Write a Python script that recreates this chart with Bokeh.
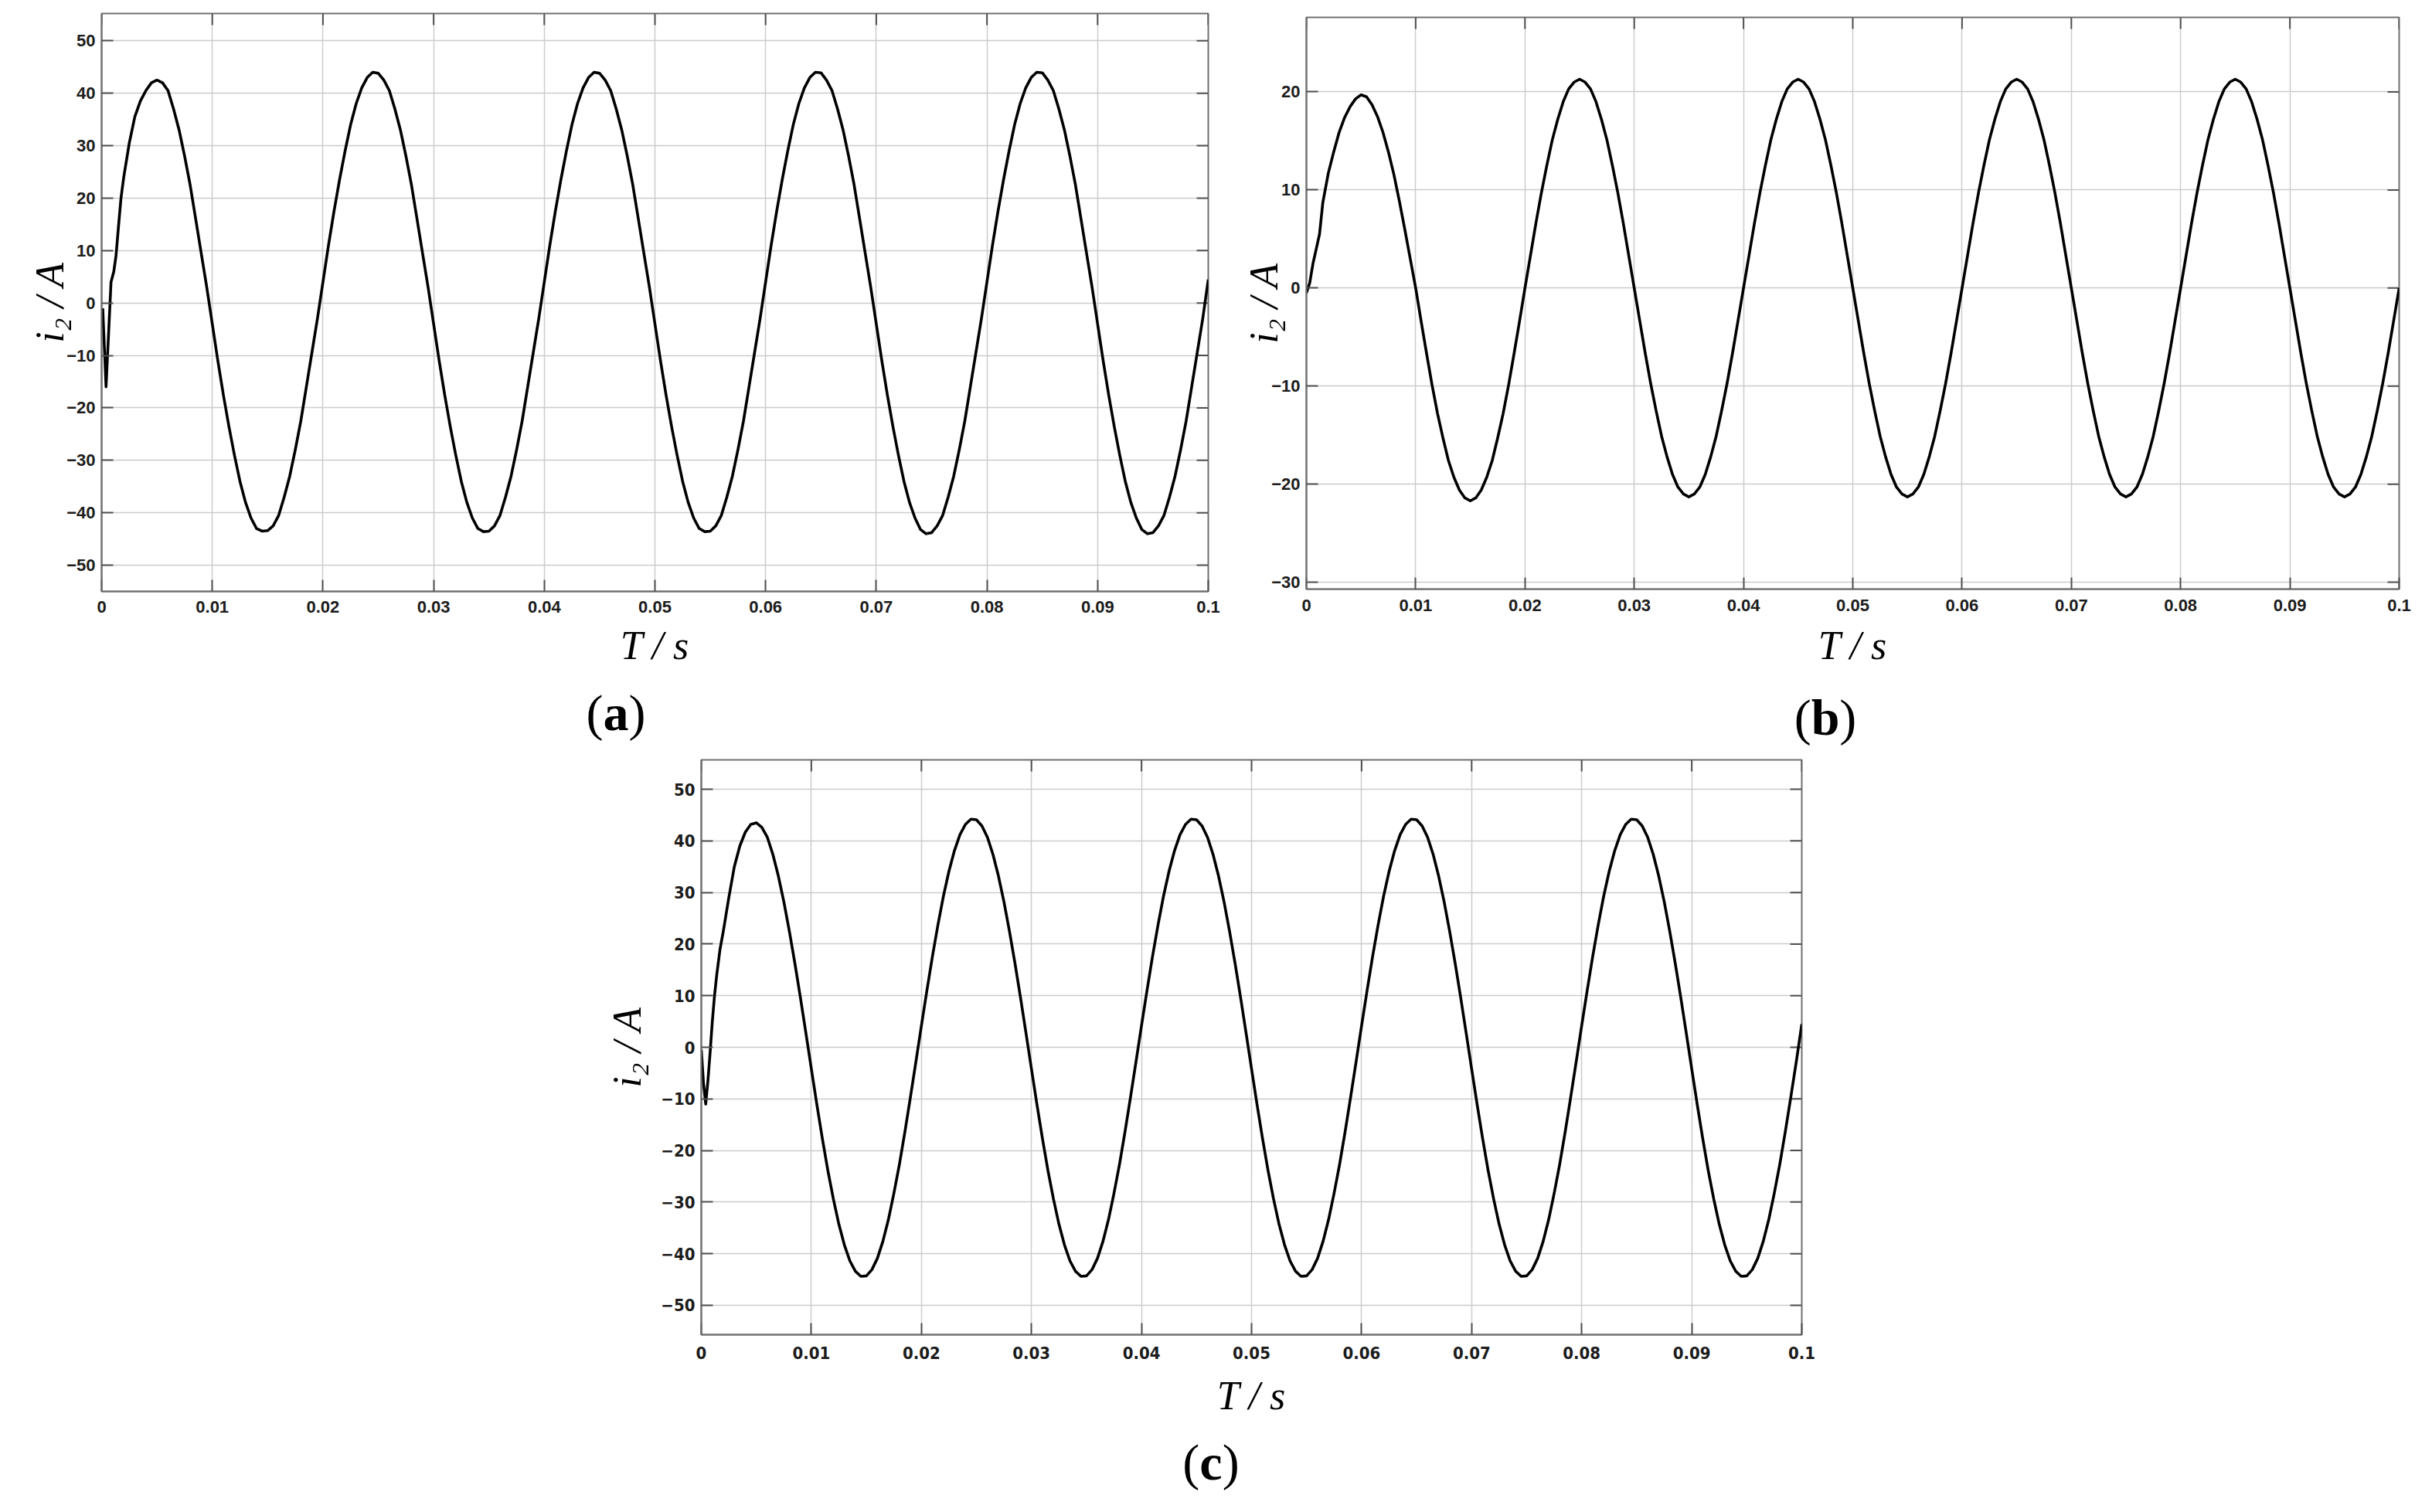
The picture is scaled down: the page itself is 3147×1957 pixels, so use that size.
import math
from bokeh.plotting import figure
from bokeh.models import FixedTicker, Range1d, Spacer, Div
from bokeh.layouts import row, column
from bokeh.embed import file_html
from bokeh.resources import INLINE

# ---------------- data ----------------
x_ticks = [0, 0.01, 0.02, 0.03, 0.04, 0.05, 0.06, 0.07, 0.08, 0.09, 0.1]
x_tick_labels = ["0", "0.01", "0.02", "0.03", "0.04", "0.05", "0.06", "0.07", "0.08", "0.09", "0.1"]

ac_y_ticks = [-50, -40, -30, -20, -10, 0, 10, 20, 30, 40, 50]
ac_y_labels = ["\u221250", "\u221240", "\u221230", "\u221220", "\u221210", "0", "10", "20", "30", "40", "50"]
b_y_ticks = [-30, -20, -10, 0, 10, 20]
b_y_labels = ["\u221230", "\u221220", "\u221210", "0", "10", "20"]

# sampling step of the digitised steady part (s)
step = 0.0005

# (a)
a_time_head = [0.0001, 0.0004, 0.00085, 0.0011, 0.0013, 0.0015, 0.00175, 0.002, 0.0025,
               0.003, 0.0035, 0.004, 0.0045, 0.005, 0.0055]
a_curr_head = [-1, -16, 4, 6, 9, 14, 20, 24, 30.5, 35.5, 38.5, 40.5, 42, 42.5, 42]
a_tail_start = 12  # first sample index of the tail (t = 0.006 s)
a_curr_tail = [
    40.5, 37, 33, 28, 22.5, 16, 9.5, 3,
    -4, -11, -17.5, -23.5, -29, -34, -38, -41, -43, -43.5, -43.4, -42.5, -40.5, -37, -33, -28, -22.5, -16, -9.5, -3,
    4, 11, 17.5, 23.5, 29, 34, 38, 41, 43, 44, 43.8, 42.5, 40.5, 37, 33, 28, 22.5, 16, 9.5, 3,
    -4, -11, -17.5, -23.5, -29, -34, -38, -41, -43, -43.6, -43.5, -42.5, -40.5, -37, -33, -28, -22.5, -16, -9.5, -3,
    4, 11, 17.5, 23.5, 29, 34, 38, 41, 43, 44, 43.8, 42.5, 40.5, 37, 33, 28, 22.5, 16, 9.5, 3,
    -4, -11, -17.5, -23.5, -29, -34, -38, -41, -43, -43.6, -43.5, -42.5, -40.5, -37, -33, -28, -22.5, -16, -9.5, -3,
    4, 11, 17.5, 23.5, 29, 34, 38, 41, 43, 44, 43.9, 42.5, 40.5, 37, 33, 28, 22.5, 16, 9.5, 3,
    -4, -11, -17.5, -23.5, -29, -34, -38, -41, -43.2, -44, -43.8, -42.5, -40.5, -37, -33, -28, -22.5, -16, -9.5, -3,
    4, 11, 17.5, 23.5, 29, 34, 38, 41, 43, 44, 43.9, 42.5, 40.5, 37, 33, 28, 22.5, 16, 9.5, 3,
    -4, -11, -17.5, -23.5, -29, -34, -38, -41, -43.2, -44, -43.8, -42.5, -40.5, -37, -33, -28, -22.5, -16, -9.5, -3,
    4.5,
]

# (b)
b_time_head = [0, 0.0003, 0.0006, 0.0009, 0.0012, 0.0015, 0.002, 0.0025, 0.003, 0.0035, 0.004,
               0.0045, 0.005, 0.0055, 0.006, 0.0065, 0.007, 0.0075, 0.008, 0.0085, 0.009, 0.0095]
b_curr_head = [-0.5, 0.5, 2.5, 4, 5.5, 8.7, 11.7, 13.9, 15.9, 17.4, 18.5, 19.3, 19.7, 19.5, 18.7,
               17.5, 15.9, 13.9, 11.6, 8.9, 6.0, 3.0]
b_tail_start = 20  # t = 0.010 s
b_curr_tail = [
    0, -3.4, -6.7, -9.9, -12.8, -15.3, -17.6, -19.3, -20.6, -21.4, -21.7, -21.4, -20.6, -19.3, -17.6, -15.3, -12.8, -9.9, -6.7, -3.4,
    0, 3.3, 6.6, 9.7, 12.5, 15.1, 17.2, 19, 20.3, 21, 21.3, 21, 20.3, 19, 17.2, 15.1, 12.5, 9.7, 6.6, 3.3,
    0, -3.3, -6.6, -9.7, -12.5, -15.1, -17.2, -19, -20.3, -21, -21.3, -21, -20.3, -19, -17.2, -15.1, -12.5, -9.7, -6.6, -3.3,
    0, 3.3, 6.6, 9.7, 12.5, 15.1, 17.2, 19, 20.3, 21, 21.3, 21, 20.3, 19, 17.2, 15.1, 12.5, 9.7, 6.6, 3.3,
    0, -3.3, -6.6, -9.7, -12.5, -15.1, -17.2, -19, -20.3, -21, -21.3, -21, -20.3, -19, -17.2, -15.1, -12.5, -9.7, -6.6, -3.3,
    0, 3.3, 6.6, 9.7, 12.5, 15.1, 17.2, 19, 20.3, 21, 21.3, 21, 20.3, 19, 17.2, 15.1, 12.5, 9.7, 6.6, 3.3,
    0, -3.3, -6.6, -9.7, -12.5, -15.1, -17.2, -19, -20.3, -21, -21.3, -21, -20.3, -19, -17.2, -15.1, -12.5, -9.7, -6.6, -3.3,
    0, 3.3, 6.6, 9.7, 12.5, 15.1, 17.2, 19, 20.3, 21, 21.3, 21, 20.3, 19, 17.2, 15.1, 12.5, 9.7, 6.6, 3.3,
    0, -3.3, -6.6, -9.7, -12.5, -15.1, -17.2, -19, -20.3, -21, -21.3, -21, -20.3, -19, -17.2, -15.1, -12.5, -9.7, -6.6, -3.3,
    0,
]

# (c)
c_time_head = [0, 0.0002, 0.0004, 0.0006, 0.0008, 0.001, 0.0012, 0.0014, 0.0017, 0.002, 0.0025,
               0.003, 0.0035, 0.004, 0.0045, 0.005, 0.0055]
c_curr_head = [-0.5, -7, -11, -6.5, -1, 5, 10, 14, 19, 22.5, 29, 35, 39, 41.7, 43.2, 43.5, 42.6]
c_tail_start = 12  # t = 0.006 s
c_curr_tail = [
    40.7, 37.4, 33.2, 28.2, 22.5, 16.3, 9.7, 2.8,
    -4.2, -11.1, -17.7, -23.9, -29.4, -34.3, -38.3, -41.4, -43.4, -44.4, -44.3, -43.1, -40.9, -37.6, -33.4, -28.3, -22.7, -16.4, -9.7, -2.8,
    4.2, 11, 17.6, 23.7, 29.3, 34.1, 38.1, 41.2, 43.2, 44.2, 44.1, 42.9, 40.7, 37.4, 33.2, 28.2, 22.5, 16.3, 9.7, 2.8,
    -4.2, -11.1, -17.7, -23.9, -29.4, -34.3, -38.3, -41.4, -43.4, -44.4, -44.3, -43.1, -40.9, -37.6, -33.4, -28.3, -22.7, -16.4, -9.7, -2.8,
    4.2, 11, 17.6, 23.7, 29.3, 34.1, 38.1, 41.2, 43.2, 44.2, 44.1, 42.9, 40.7, 37.4, 33.2, 28.2, 22.5, 16.3, 9.7, 2.8,
    -4.2, -11.1, -17.7, -23.9, -29.4, -34.3, -38.3, -41.4, -43.4, -44.4, -44.3, -43.1, -40.9, -37.6, -33.4, -28.3, -22.7, -16.4, -9.7, -2.8,
    4.2, 11, 17.6, 23.7, 29.3, 34.1, 38.1, 41.2, 43.2, 44.2, 44.1, 42.9, 40.7, 37.4, 33.2, 28.2, 22.5, 16.3, 9.7, 2.8,
    -4.2, -11.1, -17.7, -23.9, -29.4, -34.3, -38.3, -41.4, -43.4, -44.4, -44.3, -43.1, -40.9, -37.6, -33.4, -28.3, -22.7, -16.4, -9.7, -2.8,
    4.2, 11, 17.6, 23.7, 29.3, 34.1, 38.1, 41.2, 43.2, 44.2, 44.1, 42.9, 40.7, 37.4, 33.2, 28.2, 22.5, 16.3, 9.7, 2.8,
    -4.2, -11.1, -17.7, -23.9, -29.4, -34.3, -38.3, -41.4, -43.4, -44.4, -44.3, -43.1, -40.9, -37.6, -33.4, -28.3, -22.7, -16.4, -9.7, -2.8,
    4.5,
]


def series(time_head, curr_head, tail_start, curr_tail):
    t = list(time_head) + [round(step * (tail_start + i), 5) for i in range(len(curr_tail))]
    y = list(curr_head) + list(curr_tail)
    return t, y


FRAME = "#707070"
GRID = "#cccccc"
TICK = "#505050"
SANS = "Liberation Sans, Arial, sans-serif"
NARROW = "Liberation Sans Narrow, DejaVu Sans Condensed, Liberation Sans, sans-serif"


def panel(t, y, y_range, y_ticks, y_labels, width, height, borders, tick_font, tick_size,
          x_standoff, xlabel_standoff, ylabel_standoff):
    left, right, top, bottom = borders
    p = figure(width=width, height=height, x_range=Range1d(0, 0.1), y_range=Range1d(*y_range),
               output_backend="svg", toolbar_location=None, title=None,
               min_border_left=left, min_border_right=right,
               min_border_top=top, min_border_bottom=bottom)
    p.background_fill_color = "white"
    p.border_fill_color = "white"
    p.outline_line_color = FRAME
    p.outline_line_width = 2

    p.xgrid.ticker = FixedTicker(ticks=x_ticks)
    p.ygrid.ticker = FixedTicker(ticks=y_ticks)
    for g in (p.xgrid[0], p.ygrid[0]):
        g.grid_line_color = GRID
        g.grid_line_width = 1.5

    # inward ticks on the top and right edges of the box (half of each dash is clipped away)
    p.scatter(x=x_ticks, y=[y_range[1]] * len(x_ticks), marker="dash", size=30,
              angle=math.pi / 2, line_color=TICK, line_width=2)
    p.scatter(x=[0.1] * len(y_ticks), y=y_ticks, marker="dash", size=30,
              line_color=TICK, line_width=2)

    p.line(t, y, line_color="black", line_width=3.6, line_join="round")

    xmap = {v: s for v, s in zip(x_ticks, x_tick_labels)}
    ymap = {v: s for v, s in zip(y_ticks, y_labels)}

    for ax, ticks, mapping, standoff in ((p.xaxis[0], x_ticks, xmap, x_standoff),
                                         (p.yaxis[0], y_ticks, ymap, 8)):
        ax.ticker = FixedTicker(ticks=ticks)
        ax.major_label_overrides = mapping
        ax.major_tick_in = 15
        ax.major_tick_out = 0
        ax.major_tick_line_color = TICK
        ax.major_tick_line_width = 2
        ax.minor_tick_line_color = None
        ax.axis_line_color = FRAME
        ax.axis_line_width = 2
        ax.major_label_text_font = tick_font
        ax.major_label_text_font_style = "bold"
        ax.major_label_text_font_size = tick_size
        ax.major_label_text_color = "#1c1c1c"
        ax.major_label_standoff = standoff
        ax.axis_label_text_font = "Liberation Serif"
        ax.axis_label_text_font_style = "italic"
        ax.axis_label_text_font_size = "52px"
        ax.axis_label_text_color = "black"

    p.xaxis.axis_label = "T / s"
    p.yaxis.axis_label = "i\u2082 / A"
    p.xaxis.axis_label_standoff = xlabel_standoff
    p.yaxis.axis_label_standoff = ylabel_standoff
    return p


def caption(letter, width, height, line_height):
    return Div(text="(<b>%s</b>)" % letter, width=width, height=height, margin=0,
               styles={"font-family": "Liberation Serif, Times New Roman, serif",
                       "font-size": "66px", "line-height": "%dpx" % line_height,
                       "text-align": "center", "color": "black", "overflow": "visible"})


a_t, a_y = series(a_time_head, a_curr_head, a_tail_start, a_curr_tail)
b_t, b_y = series(b_time_head, b_curr_head, b_tail_start, b_curr_tail)
c_t, c_y = series(c_time_head, c_curr_head, c_tail_start, c_curr_tail)

# (a): frame 17..765 ; (b): frame 22..762 (5 px spacer + 17 px border), equal borders in the row
pa = panel(a_t, a_y, (-55, 55.2), ac_y_ticks, ac_y_labels, 1587, 877, (131, 24, 17, 112),
           SANS, "22px", 12, 11, -10)
pb = panel(b_t, b_y, (-30.7, 27.6), b_y_ticks, b_y_labels, 1552, 869, (103, 35, 17, 112),
           SANS, "22px", 13, 13, -22)
pc = panel(c_t, c_y, (-55.7, 55.7), ac_y_ticks, ac_y_labels, 1580, 864, (123, 29, 2, 118),
           NARROW, "22px", 15, 16, 12)

cap_row_ab = row(Spacer(width=737, height=104), caption("a", 120, 104, 92),
                 Spacer(width=1445, height=104), caption("b", 120, 104, 104))
cap_row_c = row(Spacer(width=1507, height=100), caption("c", 120, 100, 96))

top_row = row(column(pa), column(Spacer(width=1552, height=5), pb))
layout = column(top_row, cap_row_ab, row(Spacer(width=780, height=864), pc), cap_row_c)

open("out.html", "w").write(file_html(layout, INLINE))
